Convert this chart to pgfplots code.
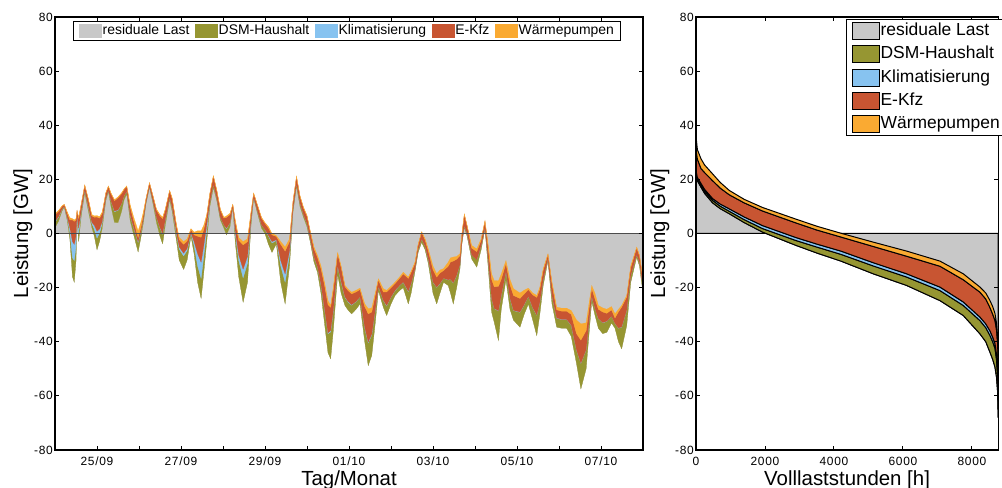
\documentclass[border=0pt]{standalone}
\usepackage{fontspec}
\setmainfont{Liberation Sans}
\newfontfamily\tickfont[LetterSpace=6]{Liberation Sans}
\usepackage{pgfplots}
\usepackage{pgfplotstable}
\pgfplotsset{compat=1.18}
\definecolor{cgray}{RGB}{200,200,200}
\definecolor{colive}{RGB}{150,150,50}
\definecolor{cblue}{RGB}{135,195,240}
\definecolor{cred}{RGB}{200,85,50}
\definecolor{corange}{RGB}{250,170,50}

% left: time series (hours since 24/09 00:00); L = lower edge of stack, then layer thicknesses
\pgfplotstableread{
t L D K E W
0 2.2 2.0 0.3 2.5 0.3
2 4.5 1.5 0.2 2.0 0.3
4 8.3 0.6 0.1 1.0 0.2
5.3 9.8 0.3 0 0.6 0.1
7 4.8 1.0 0.2 1.6 0.4
8.5 -2.0 2.5 1.5 3.0 0.8
10 -16 7 6 8 0.5
11 -18 8 6 8.5 0.5
12 -10 5 4 6 0.5
12.6 6.0 0.5 0 2.0 0
13.5 -3 3 2 3.5 0.5
15 6.5 1.5 0.3 2.5 0.2
17 15.1 1.0 0 1.7 0.2
19 8.5 1.5 0.2 2.5 0.3
21 2.3 1.5 0.4 2.4 0.4
22.5 -1.0 2.5 1.5 3 0.5
24 -6.0 4.3 2.5 5.3 0.5
25.5 -2.8 3 1.5 4 0.5
27 2.0 2 0.5 3 0.5
29 12.0 1 0 1.8 0.2
30.5 15.6 0.5 0 1.3 0.2
32 10.0 2 0 2.7 0.3
34 4.1 4 0.2 3.8 0.4
36 4.0 4.5 0.2 4.5 0.3
38 8.0 3 0 3.7 0.3
39.5 12.5 1.5 0 2.3 0.2
41 14.6 1 0 1.8 0.2
43 4.6 2 0.1 3 0.8
45 -0.5 2.5 0.2 2.5 1.3
47.5 -6.8 3.5 0.3 1.5 2.5
49 -1.7 2 0.2 1.5 2
50.5 4.0 1.2 0 1.8 1.0
52 11.0 0.5 0 1.3 0.2
54 17.1 0.4 0 1.2 0.1
56 11.0 1 0 1.8 0.2
58 4.0 2 0 2.7 0.3
60 -1.0 3 0.2 4.3 0.5
61.5 -3.8 3.5 0.3 5.5 0.5
63 3.0 2 0 3.7 0.3
65.5 12.5 1 0 2.3 0.2
67 8.0 1.5 0 3.2 0.3
69.5 -3.0 2.5 0.5 2.5 0.5
71 -9.8 4 0.8 2.7 0.8
73.5 -13.3 5 1 3.3 1.0
75.5 -9.8 3.5 0.8 2.7 0.8
77.7 -0.9 1 0.2 1.2 0.3
79.5 -7.5 3 1.5 2.5 1.0
81.5 -18.0 6 4.5 6.5 2
83.5 -24.0 7.4 6 9.2 2.4
85 -14.5 6 4 6 1.5
86.7 -3.0 4 2 3.5 0.5
88.5 10.0 1.5 0 3.2 0.3
90.5 17.0 1.2 0 3 0.2
92.5 12.0 1 0 2.7 0.3
94.5 5.0 1 0 2.7 0.3
96.5 2.0 1.2 0 2.5 0.3
98 -0.5 2.3 0.2 4 0.5
100 2.5 1.5 0 3 0.5
101.6 9.7 0.3 0 0.7 0.1
103 -3.0 3 1 3.5 0.5
105 -16.0 6 2 5.5 1
107.5 -25.4 9 3.2 9 1.2
110 -18.0 7 2.5 5.5 1
112 3.0 1.5 0.3 2.7 0.5
113.5 13.0 0.5 0 1.3 0.2
115.5 8.0 0.8 0 2 0.2
118 2.0 1.2 0 2.5 0.3
120 0.0 1.5 0 2.2 0.3
122 -4.0 3 0.3 2.7 0.5
124 -7.0 3.5 0.5 2.5 0.5
126.5 -3.8 1.2 0.3 1.2 0.3
129 -18.0 6 2 6 1
131.5 -26.0 8 3 8.5 1.5
134 -12.0 4 1.5 3.5 1
136 8.0 1 0 2.7 0.3
138 17.5 1 0 2.5 0.2
140 10.0 1.2 0 2.5 0.3
142 6.0 1 0 2.4 0.3
144 2.5 1.2 0 2.7 0.3
146 -3.5 1.2 0 2.5 0.3
148 -10.5 1.8 0.1 3 0.6
150 -14.3 2 0.1 3.4 0.7
152 -22.0 3 0.2 5.8 1
154 -33.0 5 0.3 8.7 1
156 -44.0 7 0.3 10.4 1.5
157.5 -46.3 9.9 0.5 8.6 0.7
159 -36.0 7 0.4 7.6 1
161.5 -15.0 3 0.2 4.3 0.5
163.5 -22.0 4 0.3 5.2 0.5
165.7 -26.6 3 0.2 3.7 0.5
167.5 -28.3 3 0.2 4 0.6
169.5 -29.7 3.2 0.2 4 0.6
172 -28.0 2.8 0.1 3.5 0.6
174.3 -26.0 2.5 0.1 2.7 0.5
177 -40.0 5 0.3 7.7 1
179 -48.8 8.4 0.3 10.4 1.9
181 -45.0 7.5 0.3 8.2 1.5
183 -33.0 4.5 0.2 5.5 0.8
184.8 -21.0 1.5 0.1 2.3 0.4
187.6 -27.2 2.5 0.1 3 1.2
189.5 -30.3 3.5 0.2 5 0.6
192 -26.0 2.5 0.1 3.4 0.5
194.3 -22.9 1.8 0.1 2.5 0.5
197 -21.0 1.8 0.1 2.6 0.5
199 -20.0 2 0.1 3 0.6
201.9 -26.0 4.5 0.2 4.7 0.5
203.5 -22.0 3.5 0.1 4 0.4
205.7 -14.0 1 0 2 0.4
207.5 -7.0 1 0 1.7 0.3
209.5 -3.2 1.2 0 2.5 0.2
211.5 -6.0 1.3 0 2.3 0.4
213.3 -11.0 1.5 0.1 3 0.7
216 -22.0 4 0.1 4.5 1.4
218.1 -26.0 6.1 0.1 3.7 1.2
220 -22.0 3.5 0.1 3.8 1.1
222 -18.0 1.5 0 2.8 0.7
224.7 -19.2 2 0.1 5 1.5
226 -22.0 5 0.1 6.4 1.5
227.6 -26.0 7.7 0.1 8 1.5
229.5 -20.0 4.5 0.1 5.9 1
231.4 -13.0 1.5 0 3.3 0.7
232.5 -4.0 1 0 2.6 0.4
233.9 2.3 0.7 0 4 0.3
235.5 -1.0 1 0 2.7 0.3
238.1 -9.4 1.5 0 2.5 1
241 -12.4 2.7 0 3 1
243.5 -6.0 1.5 0 2 0.5
245.7 1.7 0.5 0 2.3 0.3
247.5 -12.0 3 0 4 1
249.5 -29.0 5 0.1 7 1.9
251 -32.8 5 0.1 8 2.3
253.4 -39.5 10.9 0.1 9 2
255 -28.0 5 0.1 6 1.9
257.7 -17.0 3 0 3 1
260 -28.0 4 0.1 5 1.9
262 -32.0 3.5 0.1 5.5 2.5
265.7 -34.6 5.5 0.1 5 2
268 -30.0 3.5 0.1 4 1.4
270.5 -26.0 2.8 0 2.5 0.5
273 -32.0 4.5 0.1 4.7 0.7
275.3 -37.7 7.5 0.1 6.5 0.7
277 -30.0 4.5 0.1 4.8 0.6
279 -19.0 2 0 3.5 0.5
281.7 -10.0 0.7 0 1.5 0.3
284 -26.0 3 0 4.3 0.7
286.7 -34.6 3.3 0.1 3 1
289.5 -35.0 3.2 0.1 3 1.1
292.4 -35.0 3.2 0.1 3 1.1
295 -38.0 4 0.1 4 1.4
298 -48.0 4.9 0.1 6 5
300.5 -57.4 9.4 0.1 8.5 6
303.5 -50.0 7 0.1 7 2.9
306.7 -25.0 1.8 0 3 1
308.5 -30.0 2.5 0 3.5 2
310.5 -35.0 3.5 0.1 3.4 1.4
313 -37.0 4 0.1 3.9 1.5
315.3 -36.5 4 0.1 2.9 1.5
318 -33.0 2.5 0 2.3 1.2
320 -35.0 1.8 0 2 1.5
322 -40.0 5 0.1 6 0.9
323.8 -42.6 8 0.1 7.3 0.6
326.7 -34.0 5.6 0.1 4.9 0.5
329 -18.0 2.5 0 3 0.5
332.4 -8.7 0.9 0 2.5 0.3
334 -12.0 1.5 0 2.2 0.3
336 -22.0 2 0 3 0.3
}\lefttab

% right: sorted (duration) curves
\pgfplotstableread{
h L D K E W
0 22.0 0.6 0.6 7.8 5.0
40 19.5 0.6 0.6 6.8 3.5
145 17.1 0.7 0.7 5.5 3.6
250 14.8 0.8 0.7 6.2 2.8
483 11.3 0.9 0.7 6.6 2.5
700 9.2 0.9 0.8 5.9 2.1
966 7.3 0.9 0.9 5.2 1.6
1400 4.0 1.1 1.0 5.2 1.3
1932 0.5 1.3 1.1 5.4 1.3
2899 -4.4 1.8 1.1 5.4 1.4
3500 -7.2 2.2 1.1 5.2 1.4
4200 -10.2 2.5 1.2 5.2 1.4
5140 -14.9 2.9 1.2 6.0 1.6
6106 -19.2 3.1 1.2 6.5 1.9
7072 -24.8 3.7 1.3 7.7 1.9
7748 -30.3 3.7 1.3 8.2 2.2
8232 -37.1 4.9 1.3 9.2 1.9
8400 -40.0 5.2 1.4 9.2 2.2
8522 -43.9 6.2 1.7 8.6 2.6
8600 -46.5 6.5 1.7 8.5 2.8
8667 -49.4 6.9 1.8 8.5 2.6
8710 -53.0 6.5 2.0 9.0 2.5
8740 -58.0 6.0 2.0 10.0 2.5
8760 -68.0 6.0 4.0 10.0 3.0
}\righttab

\pgfplotsset{
  base/.style={
    scale only axis, axis on top, stack plots=y, reverse stacked plots=false,
    ymin=-80, ymax=80, ytick={-80,-60,...,80},
    tick align=inside, tick pos=both,
    major tick length=4bp,
    axis line style={line width=1.3bp},
    major tick style={black, line width=1bp},
    ticklabel style={font=\tickfont\fontsize{12}{12}\selectfont},
    /pgf/number format/assume math mode=true,
    /pgf/number format/1000 sep={},
    yticklabel style={inner sep=0pt, anchor=east, xshift=-2bp},
    xticklabel style={inner sep=0pt, anchor=north, yshift=-7bp},
    label style={font=\fontsize{20.5}{22}\selectfont},
    xlabel style={at={(axis description cs:0.5,0)}, anchor=base, yshift=-35bp},
  }
}

\begin{document}
\begin{tikzpicture}
\begin{axis}[base, at={(55bp,38bp)}, anchor=south west,
  width=588bp, height=433bp,
  xmin=0, xmax=336, xtick={0,24,...,336},
  xticklabels={,25/09,,27/09,,29/09,,01/10,,03/10,,05/10,,07/10,},
  xlabel={Tag/Monat}, ylabel={Leistung [GW]},
  ylabel style={at={(axis description cs:-0.0459,0.5)}, anchor=base},
  extra y ticks={0}, extra y tick labels={},
  extra y tick style={grid=major, major grid style={line width=1.5bp, draw=black!70}},
  legend columns=5,
  legend image code/.code={\path[#1] (0bp,-6.5bp) rectangle (22bp,6.5bp);},
  legend style={at={(0.497,0.991)}, anchor=north,
    font=\fontsize{14}{16}\selectfont, draw=black, line width=1bp,
    inner xsep=5bp, inner ysep=2bp,
    /tikz/every even column/.append style={column sep=4bp},
    nodes={inner xsep=1.5bp, inner ysep=1bp, text height=10bp, text depth=3bp}},
]
\addplot[fill=cgray, draw=cgray, line width=0.2bp] table[x=t, y=L] {\lefttab} \closedcycle;
\addplot[fill=colive, draw=colive, line width=0.2bp] table[x=t, y=D] {\lefttab} \closedcycle;
\addplot[fill=cblue, draw=cblue, line width=0.2bp] table[x=t, y=K] {\lefttab} \closedcycle;
\addplot[fill=cred, draw=cred, line width=0.2bp] table[x=t, y=E] {\lefttab} \closedcycle;
\addplot[fill=corange, draw=corange, line width=0.2bp] table[x=t, y=W] {\lefttab} \closedcycle;
\legend{residuale Last, DSM-Haushalt, Klimatisierung, E-Kfz, Wärmepumpen}
\end{axis}

\begin{axis}[base, at={(696bp,38bp)}, anchor=south west,
  width=302.2bp, height=433bp,
  xmin=0, xmax=8760, xtick={0,2000,...,8000},
  xlabel={Volllaststunden [h]}, ylabel={Leistung [GW]},
  ylabel style={at={(axis description cs:-0.1026,0.5)}, anchor=base},
  legend image code/.code={\path[#1] (0bp,-8.5bp) rectangle (27bp,8.5bp);},
  legend cell align=left,
  legend style={at={(0.4967,0.9954)}, anchor=north west,
    font=\fontsize{17.5}{19}\selectfont, draw=black, line width=1bp,
    inner xsep=5bp, inner ysep=2bp, row sep=4.3bp,
    nodes={inner xsep=1bp, inner ysep=1bp, text height=13bp, text depth=4bp}},
]
\addplot[fill=cgray, draw=black, line width=1bp] table[x=h, y=L] {\righttab} \closedcycle;
\addplot[fill=colive, draw=black, line width=1bp] table[x=h, y=D] {\righttab} \closedcycle;
\addplot[fill=cblue, draw=black, line width=1bp] table[x=h, y=K] {\righttab} \closedcycle;
\addplot[fill=cred, draw=black, line width=1bp] table[x=h, y=E] {\righttab} \closedcycle;
\addplot[fill=corange, draw=black, line width=1bp] table[x=h, y=W] {\righttab} \closedcycle;
\legend{residuale Last, DSM-Haushalt, Klimatisierung, E-Kfz, Wärmepumpen}
\end{axis}
\pgfresetboundingbox
\path (0bp,0bp) rectangle (1002bp,488bp);
\end{tikzpicture}
\end{document}
